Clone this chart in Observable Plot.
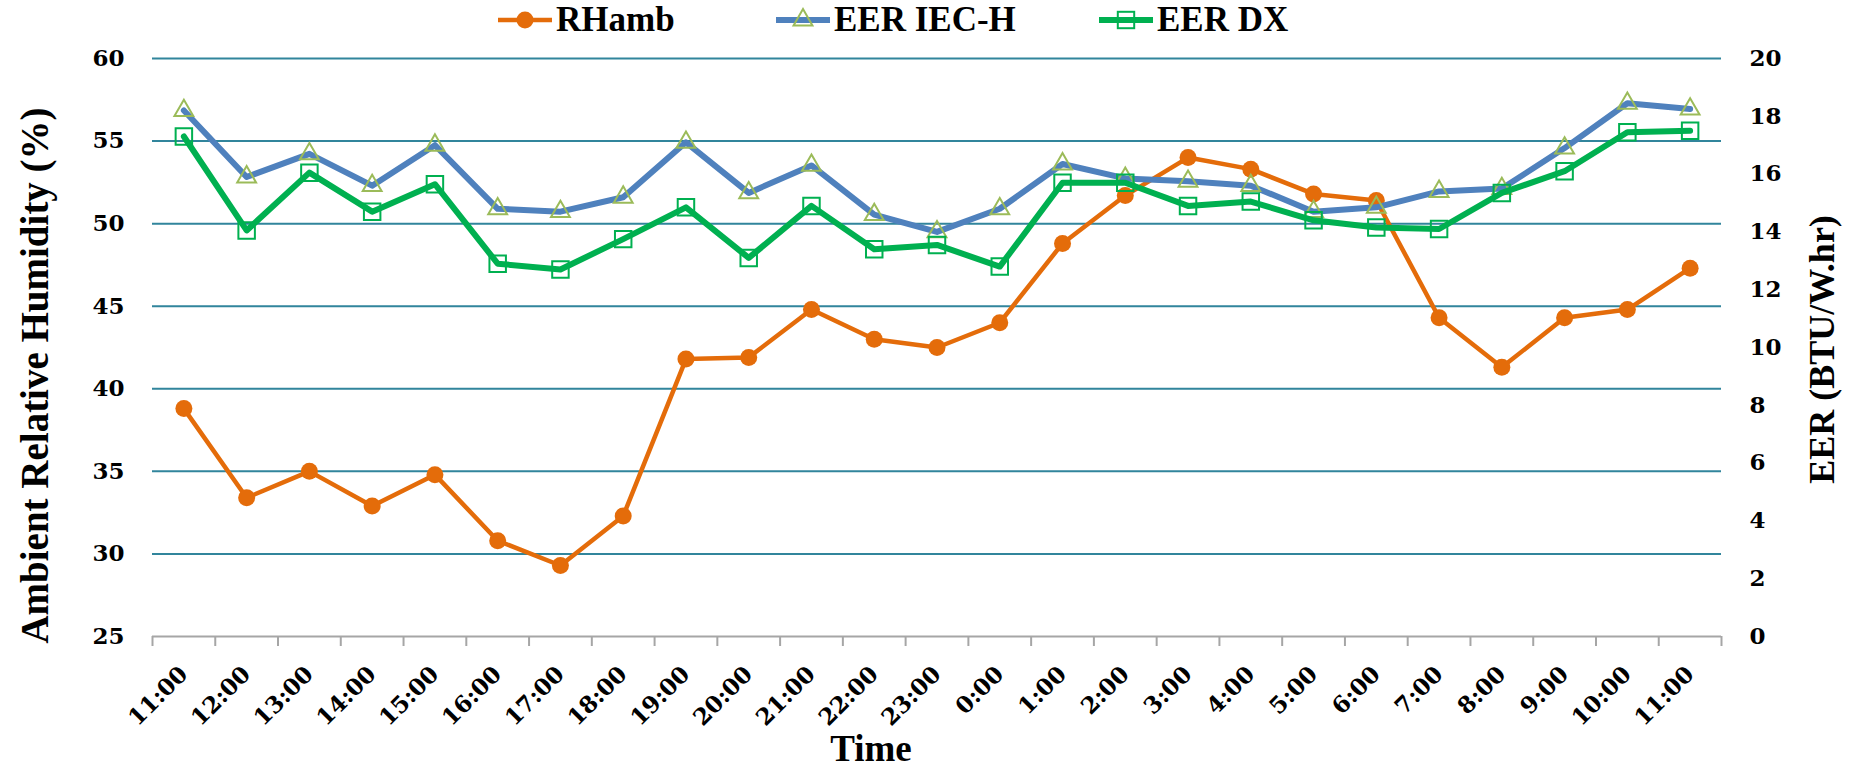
<!DOCTYPE html>
<html>
<head>
<meta charset="utf-8">
<script src="https://cdn.jsdelivr.net/npm/d3@7"></script>
<script src="https://cdn.jsdelivr.net/npm/@observablehq/plot@0.6"></script>
<style>
  body { margin: 0; background: #fff; }
  #wrap { width: 1851px; height: 770px; position: relative; overflow: hidden; background: #fff; }
  #legend { height: 40px; position: relative; font-family: "Liberation Serif", serif; font-weight: bold; font-size: 35px; color: #000; }
  .item { position: absolute; top: 0; height: 40px; display: flex; align-items: center; white-space: nowrap; }
  .item svg { display: block; margin-right: 4px; }
</style>
</head>
<body>
<div id="wrap">
  <div id="legend"></div>
  <div id="chart"></div>
</div>
<script>
// ---- data ----
const times = ["11:00","12:00","13:00","14:00","15:00","16:00","17:00","18:00","19:00","20:00","21:00","22:00","23:00",
               "0:00","1:00","2:00","3:00","4:00","5:00","6:00","7:00","8:00","9:00","10:00","11:00"];
const rhAmb  = [38.8, 33.4, 35.0, 32.9, 34.8, 30.8, 29.3, 32.3, 41.8, 41.9, 44.8, 43.0, 42.5,
                44.0, 48.8, 51.7, 54.0, 53.3, 51.8, 51.4, 44.3, 41.3, 44.3, 44.8, 47.3];
const eerIEC = [18.2, 15.9, 16.7, 15.6, 17.0, 14.8, 14.7, 15.2, 17.1, 15.35, 16.3, 14.6, 14.0,
                14.8, 16.35, 15.85, 15.75, 15.6, 14.7, 14.85, 15.4, 15.5, 16.9, 18.45, 18.25];
const eerDX  = [17.3, 14.05, 16.05, 14.7, 15.65, 12.9, 12.7, 13.75, 14.85, 13.1, 14.9, 13.4, 13.55,
                12.8, 15.7, 15.7, 14.9, 15.05, 14.4, 14.15, 14.1, 15.35, 16.1, 17.45, 17.5];
const seriesNames = ["RHamb", "EER IEC-H", "EER DX"];
const rhTicks  = [25, 30, 35, 40, 45, 50, 55, 60];
const eerTicks = [0, 2, 4, 6, 8, 10, 12, 14, 16, 18, 20];
const leftTitle = "Ambient Relative Humidity (%)";
const rightTitle = "EER (BTU/W.hr)";
const xTitle = "Time";

// ---- styles ----
const lineColors   = ["#E46C0A", "#4F81BD", "#00B050"];
const markerColors = ["#E46C0A", "#9BBB59", "#00B050"];
const gridColor = "#31859C";
const axisColor = "#A6A6A6";
const tickFont = '"DejaVu Serif", serif';
const titleFont = '"Liberation Serif", serif';

// secondary axis mapping: EER [0,20] -> RH [25,60]
const toLeft = v => 25 + v * (35 / 20);
const fromLeft = d => (d - 25) / (35 / 20);

const data = times.map((t, i) => ({ i, t, rh: rhAmb[i], iec: toLeft(eerIEC[i]), dx: toLeft(eerDX[i]) }));

// ---- legend ----
const legend = d3.select("#legend");
const legendLeft = [498, 776, 1099];
const markerDraw = [
  g => g.append("circle").attr("cx", 27).attr("cy", 20).attr("r", 8.5).attr("fill", markerColors[0]),
  g => g.append("path").attr("transform", "translate(27,20)").attr("d", d3.symbol(d3.symbolTriangle, Math.PI * 49)())
        .attr("fill", "none").attr("stroke", markerColors[1]).attr("stroke-width", 2),
  g => g.append("rect").attr("x", 27 - 8.2).attr("y", 20 - 8.2).attr("width", 16.4).attr("height", 16.4)
        .attr("fill", "none").attr("stroke", markerColors[2]).attr("stroke-width", 2)
];
const lineW = [4.5, 6, 6];
seriesNames.forEach((name, k) => {
  const item = legend.append("div").attr("class", "item").style("left", legendLeft[k] + "px");
  const s = item.append("svg").attr("width", 54).attr("height", 40);
  s.append("line").attr("x1", 0).attr("x2", 54).attr("y1", 20).attr("y2", 20)
    .attr("stroke", lineColors[k]).attr("stroke-width", lineW[k]).attr("stroke-linecap", "round");
  markerDraw[k](s);
  item.append("span").text(name);
});

// ---- chart ----
const chart = Plot.plot({
  width: 1851,
  height: 730,
  marginTop: 18,
  marginBottom: 134,
  marginLeft: 152,
  marginRight: 130,
  style: { background: "#fff", color: "#000", fontFamily: titleFont, overflow: "visible" },
  x: { domain: [-0.5, 24.5] },
  y: { domain: [25, 60] },
  marks: [
    Plot.gridY(rhTicks.slice(1), { stroke: gridColor, strokeOpacity: 1, strokeWidth: 2 }),
    Plot.ruleY([25], { stroke: axisColor, strokeWidth: 2 }),
    Plot.axisX(d3.range(-0.5, 25, 1), { tickSize: 10, stroke: axisColor, strokeWidth: 2, tickFormat: () => "", label: null }),
    Plot.axisX(d3.range(0, 25), {
      tickSize: 0, tickPadding: 34, tickRotate: -45, tickFormat: i => times[i], label: null,
      fontSize: 23, fontFamily: tickFont, fontWeight: "bold", fill: "#000"
    }),
    Plot.axisY(rhTicks, {
      anchor: "left", tickSize: 0, tickPadding: 28, label: null,
      fontSize: 23, fontFamily: tickFont, fontWeight: "bold", fill: "#000"
    }),
    Plot.axisY(eerTicks.map(toLeft), {
      anchor: "right", tickSize: 0, tickPadding: 28, label: null, tickFormat: d => String(Math.round(fromLeft(d))),
      fontSize: 23, fontFamily: tickFont, fontWeight: "bold", fill: "#000"
    }),
    Plot.line(data, { x: "i", y: "rh", stroke: lineColors[0], strokeWidth: 4.5 }),
    Plot.dot(data, { x: "i", y: "rh", r: 8.5, fill: markerColors[0], stroke: "none" }),
    Plot.line(data, { x: "i", y: "iec", stroke: lineColors[1], strokeWidth: 6 }),
    Plot.dot(data, { x: "i", y: "iec", symbol: "triangle", r: 7, fill: "none", stroke: markerColors[1], strokeWidth: 2 }),
    Plot.line(data, { x: "i", y: "dx", stroke: lineColors[2], strokeWidth: 6 }),
    Plot.dot(data, { x: "i", y: "dx", symbol: "square", r: 9.3, fill: "none", stroke: markerColors[2], strokeWidth: 2 }),
    Plot.text([leftTitle], { text: d => d, frameAnchor: "left", textAnchor: "middle", lineAnchor: "middle",
      rotate: -90, dx: -117, dy: 28, fontSize: 39, fontWeight: "bold", fontFamily: titleFont, fill: "#000" }),
    Plot.text([rightTitle], { text: d => d, frameAnchor: "right", textAnchor: "middle", lineAnchor: "middle",
      rotate: -90, dx: 101, dy: 2, fontSize: 36, fontWeight: "bold", fontFamily: titleFont, fill: "#000" }),
    Plot.text([xTitle], { text: d => d, frameAnchor: "bottom", textAnchor: "middle", lineAnchor: "bottom",
      dx: -66, dy: 124, fontSize: 37, fontWeight: "bold", fontFamily: titleFont, fill: "#000" })
  ]
});
document.getElementById("chart").appendChild(chart);
</script>
</body>
</html>
